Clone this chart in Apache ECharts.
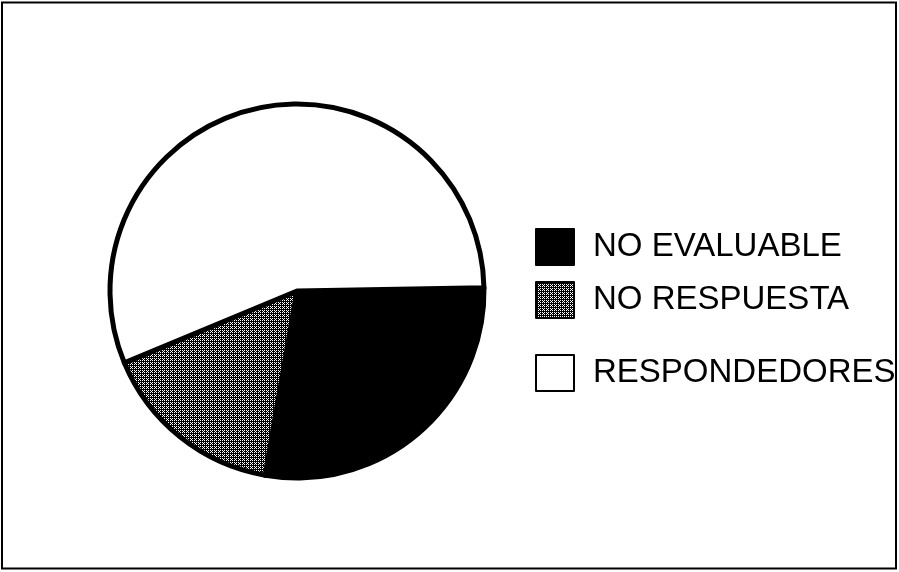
<!DOCTYPE html>
<html>
<head>
<meta charset="utf-8">
<script src="https://cdn.jsdelivr.net/npm/echarts@6/dist/echarts.min.js"></script>
<style>html,body{margin:0;padding:0;background:#fff}#c{width:899px;height:572px}</style>
</head>
<body>
<div id="c"></div>
<script>
const categories = ['NO EVALUABLE', 'NO RESPUESTA', 'RESPONDEDORES'];
const values = [28, 16, 56];

// halftone pattern for the grey slice
const pc = document.createElement('canvas');
pc.width = 4; pc.height = 4;
const px = pc.getContext('2d');
px.fillStyle = '#000'; px.fillRect(0, 0, 4, 4);
px.fillStyle = '#fff';
[[0,0],[2,0],[0,2],[2,2],[3,3]].forEach(p => px.fillRect(p[0], p[1], 1, 1));
const grey = { image: pc, repeat: 'repeat' };
const fills = ['#000', grey, '#fff'];

const chart = echarts.init(document.getElementById('c'), null, { renderer: 'canvas' });
const legendBase = {
  orient: 'vertical', left: 535, itemWidth: 38, itemHeight: 36,
  icon: 'rect', selectedMode: false, padding: 0,
  itemStyle: { borderColor: '#000', borderWidth: 2 },
  textStyle: { fontFamily: 'Liberation Sans, Arial, sans-serif', fontSize: 33, color: '#000', padding: [0, 0, 0, 14] }
};
chart.setOption({
  animation: false,
  backgroundColor: '#fff',
  legend: [
    Object.assign({}, legendBase, { top: 228, data: [categories[0]] }),
    Object.assign({}, legendBase, { top: 281, data: [categories[1]] }),
    Object.assign({}, legendBase, { top: 354, data: [categories[2]] })
  ],
  graphic: [{
    type: 'rect', shape: { x: 2, y: 2.5, width: 894, height: 566 },
    style: { fill: 'none', stroke: '#000', lineWidth: 2 }, silent: true
  }],
  series: [{
    type: 'pie',
    center: [297, 291],
    radius: 187,
    startAngle: 1,
    clockwise: true,
    label: { show: false },
    labelLine: { show: false },
    emphasis: { disabled: true },
    itemStyle: { borderColor: '#000', borderWidth: 5 },
    data: categories.map((n, i) => ({ name: n, value: values[i], itemStyle: { color: fills[i] } }))
  }]
});
</script>
</body>
</html>
